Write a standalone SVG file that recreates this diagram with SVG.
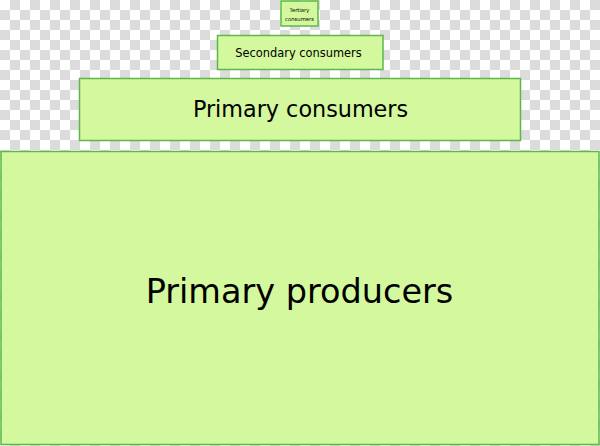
<svg xmlns="http://www.w3.org/2000/svg" width="600" height="446" viewBox="0 0 600 446">
<defs>
<pattern id="checker" width="20" height="20" patternUnits="userSpaceOnUse">
<rect width="20" height="20" fill="#ffffff"/>
<rect x="10" y="0" width="10" height="10" fill="#dcdcdc"/>
<rect x="0" y="10" width="10" height="10" fill="#dcdcdc"/>
</pattern>
</defs>
<style>
.box{fill:#d4f89e;stroke:#5cb84c;stroke-width:1.5}
.t{font-family:"DejaVu Sans",sans-serif;fill:#000;text-anchor:middle}
</style>
<rect width="600" height="446" fill="url(#checker)"/>
<g id="tertiary">
<rect class="box" x="281" y="1" width="37" height="25"/>
<text class="t" x="299.5" y="12" font-size="5.3">Tertiary</text>
<text class="t" x="299.5" y="21" font-size="5.3">consumers</text>
</g>
<g id="secondary">
<rect class="box" x="217.5" y="35.5" width="165.5" height="34"/>
<text class="t" x="298.5" y="56.5" font-size="11.4">Secondary consumers</text>
</g>
<g id="primary-consumers">
<rect class="box" x="79.5" y="78.5" width="441" height="62"/>
<text class="t" x="300.5" y="117" font-size="22.3">Primary consumers</text>
</g>
<g id="primary-producers">
<rect class="box" x="1" y="151.5" width="598" height="293"/>
<text class="t" x="299.5" y="302.5" font-size="33.5">Primary producers</text>
</g>
<g id="connectors"/>
</svg>
